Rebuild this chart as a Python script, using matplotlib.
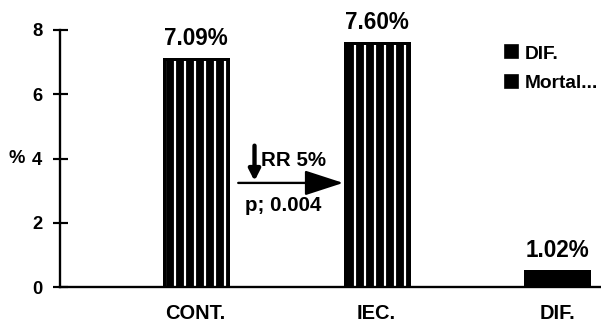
import matplotlib
matplotlib.use("Agg")
import matplotlib.pyplot as plt
from matplotlib.patches import Patch

categories = ["CONT.", "IEC.", "DIF."]
values = [7.09, 7.60, 0.51]
value_labels = ["7.09%", "7.60%", "1.02%"]
legend_labels = ["DIF.", "Mortal..."]
yticks = [0, 2, 4, 6, 8]

DPI = 120
plt.rcParams['font.family'] = ['Liberation Sans', 'DejaVu Sans']
plt.rcParams['font.weight'] = 'bold'
plt.rcParams['hatch.linewidth'] = 1.3

fig = plt.figure(figsize=(601 / DPI, 326 / DPI), dpi=DPI)
ax = fig.add_axes([60 / 601, 1 - 287 / 326, 1 - 60 / 601, (287 - 30) / 326])

x = list(range(len(categories)))
ax.bar(x, values, width=0.355, color='black', edgecolor='white', linewidth=0, hatch='||')
ax.bar(x[:2], values[:2], width=0.355, color='none', edgecolor='black', linewidth=1.8)
ax.bar(x[2:], values[2:], width=0.355, color='black', edgecolor='black', linewidth=1.2)

for xi, v, lab in zip(x, values, value_labels):
    ax.text(xi, v + 0.28, lab, ha='center', va='bottom', fontsize=13.5, fontweight='bold')

ax.set_xlim(-0.75, 2.24)
ax.set_ylim(0, 8)
ax.set_xticks(x)
ax.set_xticklabels(categories, fontsize=12, fontweight='bold')
ax.set_yticks(yticks)
ax.set_yticklabels([str(t) for t in yticks], fontsize=11, fontweight='bold')
ax.tick_params(axis='x', length=0, pad=10)
ax.tick_params(axis='y', direction='inout', length=9, width=1.3, pad=6)
for s in ['top', 'right']:
    ax.spines[s].set_visible(False)
for s in ['left', 'bottom']:
    ax.spines[s].set_linewidth(1.4)

ax.set_ylabel('%', rotation=0, fontsize=11, fontweight='bold', ha='center', va='center')
ax.yaxis.set_label_coords(-0.0804, 0.5)

# annotation: horizontal arrow
ax.annotate('', xy=(0.815, 3.24), xytext=(0.235, 3.24),
            arrowprops=dict(arrowstyle='-|>,head_length=2.0,head_width=0.65',
                            color='black', lw=1.4, shrinkA=0, shrinkB=0))
# down arrow
ax.annotate('', xy=(0.325, 3.3), xytext=(0.325, 4.4),
            arrowprops=dict(arrowstyle='-|>,head_length=0.55,head_width=0.28',
                            color='black', lw=2.6, shrinkA=0, shrinkB=0))
ax.text(0.36, 3.95, 'RR 5%', ha='left', va='center', fontsize=12.3, fontweight='bold')
ax.text(0.275, 2.55, 'p; 0.004', ha='left', va='center', fontsize=12.3, fontweight='bold')

handles = [Patch(facecolor='black', edgecolor='black') for _ in legend_labels]
leg = fig.legend(handles, legend_labels, loc='upper left', bbox_to_anchor=(488 / 601, 1 - 28 / 326),
                 frameon=False, prop=dict(size=11.5, weight='bold'), handlelength=0.68, handleheight=0.68,
                 handletextpad=0.35, labelspacing=0.65)

fig.savefig('out.png', dpi=DPI)
